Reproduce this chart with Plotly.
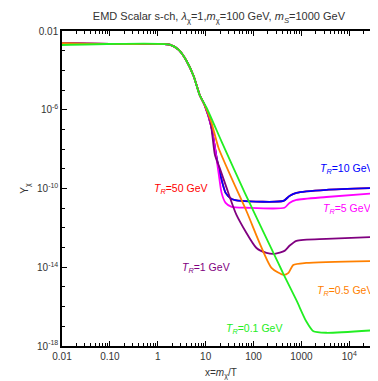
import plotly.graph_objects as go

# Y_chi vs x = m_chi/T for several reheating temperatures
x_red = [0.01, 0.033, 0.3, 1.78, 2.75, 4.0, 5.6, 7.5, 9.5, 13.3, 17, 21.5, 26.1, 34.8, 56, 422, 562, 787, 3311, 42000]
y_red = [2.45e-3, 2.3e-3, 2.19e-3, 2.04e-3, 1.1e-3, 3.0e-4, 5.2e-5, 5.6e-6, 1.74e-6, 1.2e-7, 3.55e-9, 2.75e-10, 6.0e-11, 2.95e-11, 2.34e-11, 2.34e-11, 4.2e-11, 6.0e-11, 8.5e-11, 1.07e-10]

x_blue = [0.01, 0.033, 0.3, 1.78, 2.75, 4.0, 5.6, 7.5, 9.5, 13.3, 17, 21.5, 26.1, 34.8, 56, 422, 562, 787, 3311, 42000]
y_blue = [2.45e-3, 2.3e-3, 2.19e-3, 2.04e-3, 1.1e-3, 3.0e-4, 5.2e-5, 5.6e-6, 1.74e-6, 1.2e-7, 3.55e-9, 2.75e-10, 6.0e-11, 2.95e-11, 2.34e-11, 2.34e-11, 4.2e-11, 6.0e-11, 8.5e-11, 1.07e-10]

x_magenta = [0.01, 0.033, 0.3, 1.78, 2.75, 4.0, 5.6, 7.5, 9.5, 13.3, 18.6, 21.5, 26.1, 34.8, 71, 443, 562, 787, 3311, 42000]
y_magenta = [2.45e-3, 2.3e-3, 2.19e-3, 2.04e-3, 1.1e-3, 3.0e-4, 5.2e-5, 5.6e-6, 1.74e-6, 1.2e-7, 6.2e-10, 6.0e-11, 1.86e-11, 1.17e-11, 1.05e-11, 1.05e-11, 1.86e-11, 2.63e-11, 3.7e-11, 6.0e-11]

x_purple = [0.01, 0.033, 0.3, 1.78, 2.75, 4.0, 5.6, 7.5, 9.5, 12.7, 15.6, 19.6, 27.4, 44, 115, 186, 277, 443, 562, 787, 3311, 42000]
y_purple = [2.45e-3, 2.3e-3, 2.19e-3, 2.04e-3, 1.1e-3, 3.0e-4, 5.2e-5, 5.6e-6, 1.74e-6, 2.14e-7, 5.1e-9, 1.12e-9, 1.07e-10, 4.6e-12, 9.5e-14, 5.4e-14, 4.8e-14, 6.8e-14, 1.23e-13, 2.2e-13, 2.75e-13, 3.5e-13]

x_orange = [0.01, 0.033, 0.3, 1.78, 2.75, 4.0, 5.6, 7.5, 9.5, 13.3, 18.6, 71, 237, 422, 537, 676, 1259, 42000]
y_orange = [2.45e-3, 2.3e-3, 2.19e-3, 2.04e-3, 1.1e-3, 3.0e-4, 5.2e-5, 5.6e-6, 1.74e-6, 2.14e-7, 1.15e-8, 7.2e-12, 9.3e-15, 4.1e-15, 5.2e-15, 1.32e-14, 1.66e-14, 2.1e-14]

x_green = [0.01, 0.087, 1.78, 2.75, 4.0, 5.6, 7.5, 10.5, 21.4, 65, 331, 422, 794, 1259, 1778, 3311, 42000]
y_green = [1.95e-3, 2.19e-3, 2.04e-3, 1.1e-3, 3.0e-4, 5.2e-5, 5.6e-6, 1.23e-6, 2.5e-8, 6.3e-11, 1.58e-14, 4.5e-15, 2.0e-16, 1.8e-17, 5.6e-18, 4.7e-18, 6.6e-18]

series = [
    (x_red, y_red, "#FF0000"),
    (x_blue, y_blue, "#0000FF"),
    (x_magenta, y_magenta, "#FF00FF"),
    (x_purple, y_purple, "#800080"),
    (x_orange, y_orange, "#FF8000"),
    (x_green, y_green, "#22EE22"),
]

x_ticks = [0.01, 0.1, 1, 10, 100, 1000, 10000]
x_ticktext = ["0.01", "0.10", "1", "10", "100", "1000", "10<sup>4</sup>"]
y_ticks = [1e-2, 1e-6, 1e-10, 1e-14, 1e-18]
y_ticktext = ["0.01", "10<sup>-6</sup>", "10<sup>-10</sup>", "10<sup>-14</sup>", "10<sup>-18</sup>"]

fig = go.Figure()
for xs, ys, col in series:
    fig.add_trace(go.Scatter(x=xs, y=ys, mode="lines",
                             line=dict(color=col, width=1.8, shape="spline", smoothing=0.6)))

def lbl(txt, x, y, col, anchor="center"):
    fig.add_annotation(x=x, y=y, xref="x", yref="y", text=txt, showarrow=False,
                       xanchor=anchor, font=dict(color=col, size=10.5))

lbl("<i>T</i><sub><i>R</i></sub>=10 GeV", 4.53, -9.0, "#0000FF", "right")
lbl("<i>T</i><sub><i>R</i></sub>=5 GeV", 4.50, -11.04, "#FF00FF", "right")
lbl("<i>T</i><sub><i>R</i></sub>=50 GeV", 0.47, -10.0, "#FF0000")
lbl("<i>T</i><sub><i>R</i></sub>=1 GeV", 1.0, -14.03, "#800080")
lbl("<i>T</i><sub><i>R</i></sub>=0.5 GeV", 4.53, -15.2, "#FF8000", "right")
lbl("<i>T</i><sub><i>R</i></sub>=0.1 GeV", 2.0, -17.13, "#22EE22")

# axis titles as paper annotations for exact placement
fig.add_annotation(x=-0.143, y=0.5, xref="paper", yref="paper", text="Y<sub>χ</sub>",
                   showarrow=False, textangle=-90, font=dict(size=10, color="#333333"))
fig.add_annotation(x=0.5, y=-0.113, xref="paper", yref="paper", text="x=<i>m</i><sub>χ</sub>/T",
                   showarrow=False, font=dict(size=10, color="#333333"))

minor_x = [m * 10 ** e for e in range(-2, 5) for m in range(2, 10)]
minor_y = [10.0 ** e for e in range(-18, -1)]

fig.update_xaxes(type="log", range=[-2, 4.62], tickvals=x_ticks, ticktext=x_ticktext,
                 ticks="inside", ticklen=5, tickwidth=1, tickcolor="black",
                 minor=dict(tickvals=minor_x, ticks="inside", ticklen=3, tickcolor="black"),
                 showline=True, linecolor="black", linewidth=1.5, mirror="ticks",
                 showgrid=False, zeroline=False,
                 tickfont=dict(size=10, color="#333333"))
fig.update_yaxes(type="log", range=[-18, -2], tickvals=y_ticks, ticktext=y_ticktext,
                 ticks="inside", ticklen=5, tickwidth=1, tickcolor="black",
                 minor=dict(tickvals=minor_y, ticks="inside", ticklen=3, tickcolor="black"),
                 showline=True, linecolor="black", linewidth=1.5, mirror="ticks",
                 showgrid=False, zeroline=False,
                 tickfont=dict(size=10, color="#333333"))

fig.update_layout(
    width=378, height=381,
    margin=dict(l=54, r=5, t=23, b=43),
    paper_bgcolor="white", plot_bgcolor="white",
    showlegend=False,
    font=dict(family="Liberation Sans, Arial, sans-serif"),
    title=dict(text="EMD Scalar s-ch, <i>λ</i><sub>χ</sub>=1,<i>m</i><sub>χ</sub>=100 GeV, <i>m</i><sub><i>S</i></sub>=1000 GeV",
               x=0.558, xanchor="center", y=0.978, yanchor="middle",
               font=dict(size=11, color="#333333")),
)

fig.write_html("out.html")
